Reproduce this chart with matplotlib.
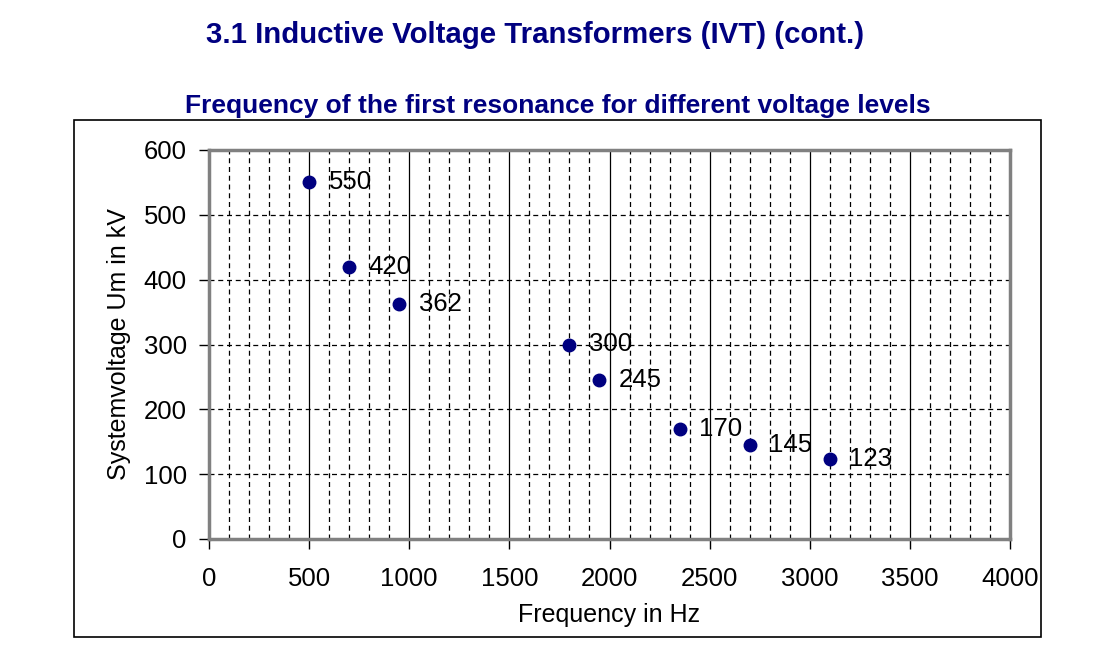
import matplotlib
matplotlib.use("Agg")
import matplotlib.pyplot as plt
from matplotlib.patches import Rectangle
import numpy as np

plt.rcParams['font.family'] = ['Liberation Sans', 'DejaVu Sans']

# resonance frequency (Hz) vs system voltage (kV)
freq_hz = [500, 700, 950, 1800, 1950, 2350, 2700, 3100]
voltage_kv = [550, 420, 362, 300, 245, 170, 145, 123]
point_labels = ["550", "420", "362", "300", "245", "170", "145", "123"]

navy = "#000080"
frame_grey = "#808080"

fig = plt.figure(figsize=(11, 6.5), dpi=100)
ax = fig.add_axes([209 / 1100, 1 - 539 / 650, 801 / 1100, 389 / 650])

# outer chart frame
fig.patches.append(Rectangle((74 / 1100, 1 - 637 / 650), 967 / 1100, 517 / 650,
                             transform=fig.transFigure, fill=False,
                             edgecolor="black", linewidth=1.2, zorder=0))

ax.set_xlim(0, 4000)
ax.set_ylim(0, 600)
ax.set_xticks(np.arange(0, 4001, 500))
ax.set_yticks(np.arange(0, 601, 100))

# grid: dashed every 100 Hz, solid every 500 Hz, dashed horizontal every 100 kV
for xv in range(100, 4000, 100):
    if xv % 500 == 0:
        ax.axvline(xv, color="black", linewidth=0.9, zorder=1)
    else:
        ax.axvline(xv, color="black", linewidth=0.9, linestyle=(0, (4, 3)), zorder=1)
for yv in range(100, 600, 100):
    ax.axhline(yv, color="black", linewidth=0.9, linestyle=(0, (4, 3)), zorder=1)

ax.plot(freq_hz, voltage_kv, "o", color=navy, markersize=9, zorder=3)
for xv, yv, lab in zip(freq_hz, voltage_kv, point_labels):
    ax.annotate(lab, (xv, yv), xytext=(14, 0), textcoords="offset points",
                va="center", ha="left", fontsize=18.5, color="black", zorder=4)

for sp in ax.spines.values():
    sp.set_color(frame_grey)
    sp.set_linewidth(2.5)

ax.tick_params(axis="both", direction="out", length=7, width=1, color="black",
               labelsize=18.5)
ax.tick_params(axis="y", pad=9)
ax.tick_params(axis="x", pad=13)

ax.set_xlabel("Frequency in Hz", fontsize=18, labelpad=9)
ax.set_ylabel("Systemvoltage Um in kV", fontsize=18, labelpad=9)

fig.text(535 / 1100, 1 - 35 / 650, "3.1 Inductive Voltage Transformers (IVT) (cont.)",
         ha="center", va="center", fontsize=21.2, fontweight="bold", color=navy)
fig.text(558 / 1100, 1 - 106 / 650, "Frequency of the first resonance for different voltage levels",
         ha="center", va="center", fontsize=19, fontweight="bold", color=navy)

fig.savefig("out.png", dpi=100)
